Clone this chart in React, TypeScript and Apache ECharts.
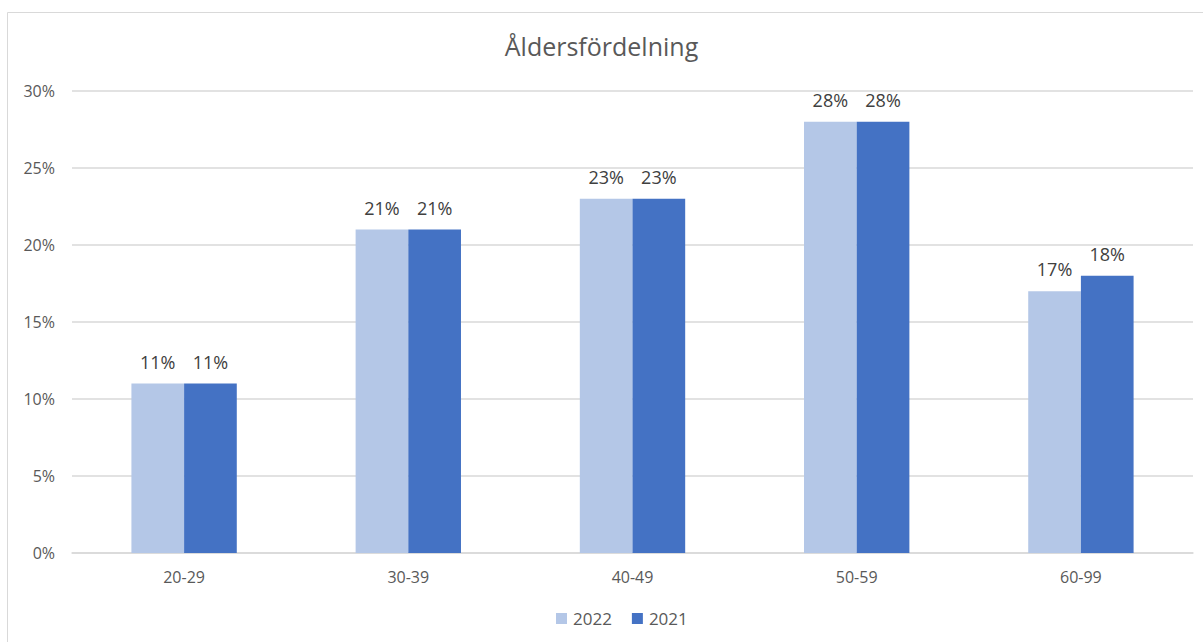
import React, { useEffect, useRef } from "react";
import * as echarts from "echarts";

const categories = ["20-29", "30-39", "40-49", "50-59", "60-99"];
const values2022 = [11, 21, 23, 28, 17];
const values2021 = [11, 21, 23, 28, 18];
const seriesNames = ["2022", "2021"];
const titleText = "Åldersfördelning";

export default function App() {
  const ref = useRef<HTMLDivElement>(null);
  useEffect(() => {
    const chart = echarts.init(ref.current!, null, { renderer: "svg" });
    const font = "'Open Sans', 'Noto Sans', sans-serif";
    const label = {
      show: true,
      position: "top",
      distance: 13,
      formatter: "{c}%",
      color: "#404040",
      fontSize: 18,
      fontFamily: font,
    };
    chart.setOption({
      animation: false,
      backgroundColor: "#ffffff",
      textStyle: { fontFamily: font },
      title: {
        text: titleText,
        left: "center",
        top: 28,
        textStyle: { color: "#595959", fontSize: 25, fontWeight: "normal", fontFamily: font },
      },
      graphic: [
        {
          type: "rect",
          shape: { x: 7.5, y: 12.5, width: 1200, height: 640 },
          style: { fill: "none", stroke: "#d9d9d9", lineWidth: 1 },
          silent: true,
        },
      ],
      legend: {
        data: seriesNames,
        bottom: 10,
        left: 551,
        itemWidth: 11,
        itemHeight: 11,
        itemGap: 20,
        icon: "rect",
        textStyle: { color: "#595959", fontSize: 17, fontFamily: font, padding: [0, 0, 0, 1] },
      },
      grid: { left: 72, right: 10, top: 91, bottom: 89, containLabel: false },
      xAxis: {
        type: "category",
        data: categories,
        axisTick: { show: false },
        axisLine: { lineStyle: { color: "#d9d9d9", width: 1.5 } },
        axisLabel: { color: "#595959", fontSize: 16, margin: 16, fontFamily: font },
      },
      yAxis: {
        type: "value",
        min: 0,
        max: 30,
        interval: 5,
        axisLabel: { formatter: "{value}%", color: "#595959", fontSize: 16, margin: 17, fontFamily: font },
        splitLine: { lineStyle: { color: "#d9d9d9", width: 1.5 } },
        axisLine: { show: false },
        axisTick: { show: false },
      },
      series: [
        {
          name: seriesNames[0],
          type: "bar",
          data: values2022,
          itemStyle: { color: "#b4c7e7" },
          barGap: "0%",
          barCategoryGap: "53%",
          label,
        },
        {
          name: seriesNames[1],
          type: "bar",
          data: values2021,
          itemStyle: { color: "#4472c4" },
          barGap: "0%",
          barCategoryGap: "53%",
          label,
        },
      ],
    });
    return () => chart.dispose();
  }, []);
  return (
    <div
      ref={ref}
      style={{ position: "absolute", left: 0, top: 0, width: 1203, height: 642 }}
    />
  );
}
